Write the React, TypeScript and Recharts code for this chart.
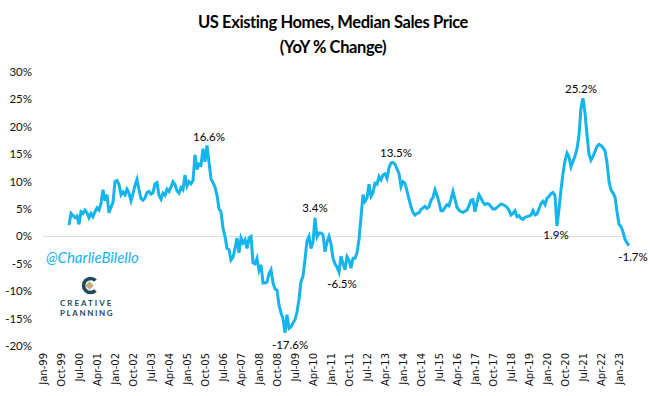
import React from 'react';
import { LineChart, Line, XAxis, YAxis, ReferenceLine, LabelList } from 'recharts';

// US existing homes median sales price, YoY % change (monthly, Feb-2000 .. Jun-2023)
const y2000 = [2.1, 4.2, 3.8, 3.4, 3.7, 2.2, 4.5, 4.2, 4.8, 4.3, 3.4];
const y2001 = [4.2, 3.6, 4.5, 5.2, 4.8, 6.0, 8.5, 6.5, 7.6, 4.3, 5.3, 6.2];
const y2002 = [10.0, 10.2, 9.5, 7.6, 8.1, 7.6, 8.6, 7.9, 6.5, 7.8, 9.3, 10.4];
const y2003 = [8.5, 6.9, 6.6, 7.0, 8.0, 8.2, 7.7, 8.0, 9.6, 9.8, 7.5, 6.8];
const y2004 = [7.9, 7.5, 8.6, 8.2, 9.0, 10.0, 9.5, 8.3, 7.9, 8.9, 8.5, 11.2];
const y2005 = [9.2, 10.0, 9.6, 10.2, 14.9, 12.2, 13.2, 13.0, 16.0, 13.6, 16.6, 13.5];
const y2006 = [10.5, 9.8, 9.0, 7.5, 5.0, 4.5, 1.5, 0.0, -2.2, -2.4, -4.3, -3.8];
const y2007 = [-2.2, -0.3, -3.0, -0.3, -1.2, -0.6, -2.2, -0.3, 0.0, -4.8, -5.0, -4.0];
const y2008 = [-6.2, -5.2, -8.5, -8.5, -8.3, -6.8, -6.1, -8.5, -9.6, -9.8, -12.5, -14.0];
const y2009 = [-15.0, -17.6, -14.3, -16.8, -16.5, -15.8, -15.2, -13.8, -11.5, -8.2, -7.3, -4.2];
const y2010 = [-0.8, 0.0, -2.2, -1.0, 3.4, -0.1, 0.6, 0.6, 0.3, -2.8, -1.0, 0.0];
const y2011 = [-1.4, -4.0, -5.0, -5.6, -6.5, -3.6, -5.0, -6.1, -3.7, -4.3, -5.8, -4.0];
const y2012 = [-4.0, -3.0, -0.6, 3.5, 7.6, 6.4, 7.0, 9.5, 7.3, 8.0, 9.7, 9.5];
const y2013 = [10.9, 10.3, 11.2, 11.4, 10.6, 12.5, 13.4, 13.5, 13.2, 12.3, 11.5, 9.1];
const y2014 = [10.0, 9.7, 8.3, 6.8, 5.4, 4.4, 3.9, 4.2, 4.3, 4.9, 5.2, 5.5];
const y2015 = [5.1, 5.4, 6.6, 7.1, 8.5, 7.5, 6.2, 4.7, 4.7, 5.3, 5.8, 5.6];
const y2016 = [6.8, 8.2, 6.8, 5.3, 4.8, 4.5, 4.4, 4.6, 4.8, 5.6, 6.6, 6.7];
const y2017 = [4.5, 6.2, 7.6, 7.0, 6.2, 5.8, 6.0, 5.9, 5.4, 5.0, 5.0, 5.3];
const y2018 = [5.6, 5.9, 5.8, 5.6, 5.3, 4.8, 3.9, 4.2, 4.7, 3.6, 3.8, 3.3];
const y2019 = [3.1, 3.5, 3.6, 3.7, 3.9, 4.7, 3.9, 4.1, 5.0, 6.0, 6.4, 5.8];
const y2020 = [7.0, 7.3, 7.8, 8.0, 7.5, 1.9, 5.0, 8.5, 11.5, 13.8, 15.2, 14.5];
const y2021 = [12.7, 13.7, 14.6, 16.0, 18.5, 23.5, 25.2, 22.5, 18.5, 15.0, 13.9, 14.6];
const y2022 = [15.5, 16.4, 16.8, 16.6, 16.2, 15.6, 13.5, 10.0, 8.5, 7.9, 7.2, 4.5];
const y2023 = [2.2, 1.8, 0.8, -0.5, -1.2, -1.7];

const seriesByYear = [
  y2000, y2001, y2002, y2003, y2004, y2005, y2006, y2007, y2008, y2009, y2010, y2011,
  y2012, y2013, y2014, y2015, y2016, y2017, y2018, y2019, y2020, y2021, y2022, y2023,
];

const monthNames = ['Jan', 'Feb', 'Mar', 'Apr', 'May', 'Jun', 'Jul', 'Aug', 'Sep', 'Oct', 'Nov', 'Dec'];

// x axis labels, one every 9 months from Jan-99
const tickLabels = [
  'Jan-99', 'Oct-99', 'Jul-00', 'Apr-01', 'Jan-02', 'Oct-02', 'Jul-03', 'Apr-04', 'Jan-05',
  'Oct-05', 'Jul-06', 'Apr-07', 'Jan-08', 'Oct-08', 'Jul-09', 'Apr-10', 'Jan-11', 'Oct-11',
  'Jul-12', 'Apr-13', 'Jan-14', 'Oct-14', 'Jul-15', 'Apr-16', 'Jan-17', 'Oct-17', 'Jul-18',
  'Apr-19', 'Jan-20', 'Oct-20', 'Jul-21', 'Apr-22', 'Jan-23',
];
const yTicks = [-20, -15, -10, -5, 0, 5, 10, 15, 20, 25, 30];

// callouts on the line
const notes = [
  { date: 'Nov-05', text: '16.6%', dx: 2, dy: -9 },
  { date: 'Feb-09', text: '-17.6%', dx: 5, dy: 12 },
  { date: 'May-10', text: '3.4%', dx: 0, dy: -10 },
  { date: 'May-11', text: '-6.5%', dx: 3, dy: 11 },
  { date: 'Aug-13', text: '13.5%', dx: 3, dy: -10 },
  { date: 'Jun-20', text: '1.9%', dx: -1, dy: 9 },
  { date: 'Jul-21', text: '25.2%', dx: -2, dy: -10 },
  { date: 'Jun-23', text: '-1.7%', dx: 4, dy: 11 },
];

const FONT = 'Lato, "Open Sans", sans-serif';
const BLUE = '#14b4ec';

// months counted from Jan-99; series starts Feb-00
const firstMonth = 13;
const monthLabel = (m: number) =>
  `${monthNames[m % 12]}-${String((1999 + Math.floor(m / 12)) % 100).padStart(2, '0')}`;

const data = seriesByYear.flat().map((v, i) => {
  const m = firstMonth + i;
  const date = monthLabel(m);
  const note = notes.find((n) => n.date === date);
  return { m, date, yoy: v, note: note ? note.text : undefined };
});

const xTicks = tickLabels.map((_, i) => i * 9);

const XTick = (props: any) => {
  const { x, y, payload } = props;
  return (
    <text
      x={x}
      y={y}
      transform={`rotate(-90 ${x} ${y})`}
      textAnchor="end"
      dominantBaseline="central"
      fontFamily='"DejaVu Sans", sans-serif'
      fontSize={10}
      fill="#111"
    >
      {tickLabels[Math.round(payload.value / 9)]}
    </text>
  );
};

const renderNote = (props: any) => {
  const { x, y, index } = props;
  const row = data[index];
  if (!row || !row.note) return null;
  const n = notes.find((o) => o.date === row.date)!;
  return (
    <text
      x={x + n.dx}
      y={y + n.dy}
      textAnchor="middle"
      dominantBaseline="central"
      fontFamily={FONT}
      fontSize={11.5}
      fill="#000"
    >
      {n.text}
    </text>
  );
};

const CreativeLogo = () => (
  <div style={{ position: 'absolute', left: 60, top: 276, width: 62, fontFamily: FONT, color: '#1d4a5c' }}>
    <svg width={62} height={20} style={{ display: 'block' }}>
      {/* C mark with diamond */}
      <path d="M35.5 4.5 A7 7 0 1 0 35.5 14.5" fill="none" stroke="#1d4a5c" strokeWidth={3.6} />
      <rect x={26.5} y={6.5} width={6} height={6} fill="#c7a878" transform="rotate(45 29.5 9.5)" />
    </svg>
    <div style={{ fontSize: 8, fontWeight: 700, letterSpacing: 2, lineHeight: '10px', marginTop: 2 }}>CREATIVE</div>
    <div style={{ fontSize: 8, fontWeight: 700, letterSpacing: 1.6, lineHeight: '10px' }}>PLANNING</div>
  </div>
);

const App: React.FC = () => {
  return (
    <div style={{ position: 'absolute', left: 0, top: 0, width: 650, height: 396, background: '#fff' }}>
      {/* title */}
      <div
        style={{
          position: 'absolute',
          left: 8,
          top: 10,
          width: 650,
          textAlign: 'center',
          fontFamily: FONT,
          fontWeight: 700,
          fontSize: 16.5,
          letterSpacing: -0.4,
          lineHeight: '25px',
          color: '#000',
        }}
      >
        <div>US Existing Homes, Median Sales Price</div>
        <div>(YoY % Change)</div>
      </div>

      <LineChart
        width={650}
        height={396}
        data={data}
        margin={{ top: 72, right: 19, bottom: 0, left: 0 }}
      >
        <XAxis
          dataKey="m"
          type="number"
          domain={[0, 294]}
          ticks={xTicks}
          interval={0}
          height={50}
          axisLine={false}
          tickLine={false}
          tickSize={0}
          tickMargin={7}
          tick={<XTick />}
        />
        <YAxis
          type="number"
          domain={[-20, 30]}
          ticks={yTicks}
          interval={0}
          width={43}
          axisLine={false}
          tickLine={false}
          tickSize={0}
          tickMargin={11}
          tickFormatter={(v) => `${v}%`}
          tick={{ fontFamily: FONT, fontSize: 11.5, fill: '#111' }}
        />
        <ReferenceLine y={0} stroke="#d9d9d9" strokeWidth={1} />
        <Line
          type="linear"
          dataKey="yoy"
          stroke={BLUE}
          strokeWidth={3}
          dot={false}
          isAnimationActive={false}
        >
          <LabelList dataKey="note" content={renderNote} />
        </Line>
      </LineChart>

      {/* watermark */}
      <div
        style={{
          position: 'absolute',
          left: 46,
          top: 247,
          fontFamily: FONT,
          fontStyle: 'italic',
          fontSize: 15,
          color: BLUE,
          lineHeight: '20px',
        }}
      >
        @CharlieBilello
      </div>
      <CreativeLogo />
    </div>
  );
};

export default App;
